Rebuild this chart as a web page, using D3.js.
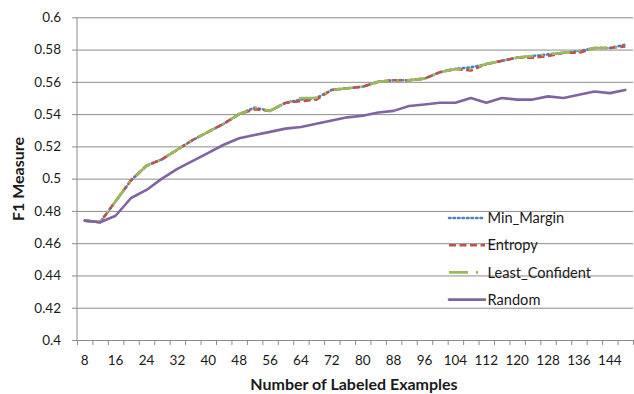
<!DOCTYPE html>
<html>
<head>
<meta charset="utf-8">
<script src="https://cdn.jsdelivr.net/npm/d3@7"></script>
<style>
  html, body { margin: 0; padding: 0; background: #fff; }
  svg { display: block; font-family: Lato, "Open Sans", sans-serif; }
</style>
</head>
<body>
<svg id="chart" width="634" height="394"></svg>
<script>
// Number of labeled examples (one category every 4)
const examples = [8, 12, 16, 20, 24, 28, 32, 36, 40, 44, 48, 52, 56, 60, 64, 68, 72, 76,
                  80, 84, 88, 92, 96, 100, 104, 108, 112, 116, 120, 124, 128, 132, 136, 140, 144, 148];

// F1 measure per query strategy
const minMargin = [0.474, 0.473, 0.486, 0.499, 0.508, 0.512, 0.518, 0.524, 0.529, 0.534, 0.540, 0.544,
                   0.542, 0.547, 0.549, 0.550, 0.555, 0.556, 0.557, 0.560, 0.561, 0.561, 0.562, 0.566,
                   0.568, 0.569, 0.571, 0.573, 0.575, 0.576, 0.577, 0.578, 0.579, 0.581, 0.581, 0.583];
const entropy   = [0.474, 0.473, 0.486, 0.499, 0.508, 0.512, 0.518, 0.524, 0.529, 0.534, 0.540, 0.543,
                   0.542, 0.547, 0.548, 0.549, 0.555, 0.556, 0.557, 0.560, 0.561, 0.561, 0.562, 0.566,
                   0.568, 0.567, 0.571, 0.573, 0.575, 0.575, 0.576, 0.578, 0.578, 0.581, 0.581, 0.582];
const leastConf = [0.474, 0.473, 0.486, 0.499, 0.508, 0.512, 0.518, 0.524, 0.529, 0.534, 0.540, 0.544,
                   0.542, 0.547, 0.550, 0.550, 0.555, 0.556, 0.557, 0.560, 0.561, 0.561, 0.562, 0.566,
                   0.568, 0.568, 0.571, 0.573, 0.575, 0.576, 0.577, 0.578, 0.579, 0.581, 0.581, 0.582];
const random    = [0.474, 0.473, 0.477, 0.488, 0.493, 0.500, 0.506, 0.511, 0.516, 0.521, 0.525, 0.527,
                   0.529, 0.531, 0.532, 0.534, 0.536, 0.538, 0.539, 0.541, 0.542, 0.545, 0.546, 0.547,
                   0.547, 0.550, 0.547, 0.550, 0.549, 0.549, 0.551, 0.550, 0.552, 0.554, 0.553, 0.555];

const seriesNames = ["Min_Margin", "Entropy", "Least_Confident", "Random"];
const xTickLabels = [8, 16, 24, 32, 40, 48, 56, 64, 72, 80, 88, 96, 104, 112, 120, 128, 136, 144];
const yTicks = [0.4, 0.42, 0.44, 0.46, 0.48, 0.5, 0.52, 0.54, 0.56, 0.58, 0.6];

const series = [
  { name: seriesNames[0], values: minMargin, color: "#4F81BD", dash: "1.5,3", cap: "round" },
  { name: seriesNames[1], values: entropy,   color: "#C0504D", dash: "7,3.5", cap: "butt" },
  { name: seriesNames[2], values: leastConf, color: "#9BBB59", dash: "19,8,2,8", cap: "butt" },
  { name: seriesNames[3], values: random,    color: "#8064A2", dash: null, cap: "round" }
];

const svg = d3.select("#chart");
const margin = { left: 77, right: 1, top: 17.3, bottom: 54 };
const W = 634, H = 394;
const plotW = W - margin.left - margin.right;
const plotH = H - margin.top - margin.bottom;

const x = d3.scaleBand().domain(examples).range([0, plotW]).padding(0);
const xc = d => x(d) + x.bandwidth() / 2;
const y = d3.scaleLinear().domain([0.4, 0.6]).range([plotH, 0]);

const g = svg.append("g").attr("transform", `translate(${margin.left},${margin.top})`);
const gridColor = "#8c8c8c";
const textColor = "#1a1a1a";

// horizontal gridlines, with a short outside tick on the left
g.append("g")
  .attr("transform", "translate(-5,0)")
  .call(d3.axisRight(y).tickValues(yTicks).tickSize(plotW + 5).tickFormat(""))
  .call(s => s.select(".domain").remove())
  .call(s => s.selectAll(".tick line").attr("stroke", gridColor).attr("stroke-width", 1));

// y labels
g.append("g")
  .call(d3.axisLeft(y).tickValues(yTicks).tickSize(0).tickPadding(16).tickFormat(d3.format(".2~f")))
  .call(s => s.select(".domain").remove())
  .call(s => s.selectAll("text").attr("font-size", 13.5).attr("fill", textColor)
    .attr("font-family", "Lato, 'Open Sans', sans-serif"));

// y axis line
g.append("line").attr("x1", 0).attr("x2", 0).attr("y1", 0).attr("y2", plotH)
  .attr("stroke", gridColor).attr("stroke-width", 1);

// x tick marks at category boundaries
const xb = d3.scaleLinear().domain([0, examples.length]).range([0, plotW]);
g.append("g")
  .attr("transform", `translate(0,${plotH})`)
  .call(d3.axisBottom(xb).tickValues(d3.range(0, examples.length + 1)).tickSize(5).tickFormat(""))
  .call(s => s.selectAll("line, path").attr("stroke", gridColor));

// x labels centred on every other category
g.append("g")
  .attr("transform", `translate(0,${plotH})`)
  .call(d3.axisBottom(x).tickValues(xTickLabels).tickSize(0).tickPadding(15))
  .call(s => s.select(".domain").remove())
  .call(s => s.selectAll("text").attr("font-size", 13.5).attr("fill", textColor)
    .attr("font-family", "Lato, 'Open Sans', sans-serif"));

// series lines
const line = d3.line().x((d, i) => xc(examples[i])).y(d => y(d));
series.forEach(s => {
  g.append("path")
    .datum(s.values)
    .attr("d", line)
    .attr("fill", "none")
    .attr("stroke", s.color)
    .attr("stroke-width", 2.6)
    .attr("stroke-linejoin", "round")
    .attr("stroke-linecap", s.cap)
    .attr("stroke-dasharray", s.dash);
});

// legend
const legend = svg.append("g").attr("transform", "translate(449,218)");
series.forEach((s, i) => {
  const row = legend.append("g").attr("transform", `translate(0,${i * 27.2})`);
  row.append("line").attr("x1", 0).attr("x2", 36).attr("y1", 0).attr("y2", 0)
    .attr("stroke", s.color).attr("stroke-width", 2.6)
    .attr("stroke-linecap", s.cap).attr("stroke-dasharray", s.dash);
  row.append("text").attr("x", 38.5).attr("y", 0).attr("dy", "0.35em")
    .attr("font-size", 14.6).attr("fill", textColor).text(s.name);
});

// axis titles
svg.append("text")
  .attr("x", 354).attr("y", 384).attr("dy", "0.35em")
  .attr("text-anchor", "middle").attr("font-size", 16).attr("font-weight", "bold")
  .attr("fill", textColor)
  .text("Number of Labeled Examples");

svg.append("text")
  .attr("transform", "translate(18,179) rotate(-90)")
  .attr("dy", "0.35em")
  .attr("text-anchor", "middle").attr("font-size", 16).attr("font-weight", "bold")
  .attr("fill", textColor)
  .text("F1 Measure");
</script>
</body>
</html>
